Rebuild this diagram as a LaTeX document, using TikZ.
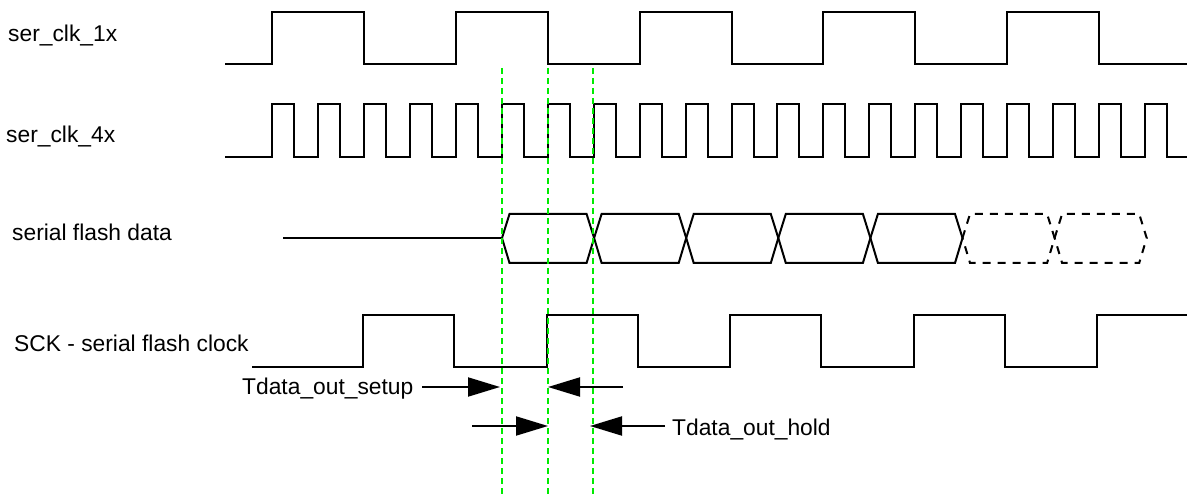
\documentclass[tikz,border=0pt]{standalone}
\usepackage{fontspec}
\setmainfont{Liberation Sans}
\usetikzlibrary{arrows.meta}
\definecolor{guide}{RGB}{0,235,0}
\tikzset{
  wave/.style={line width=2pt, black, line join=miter},
  dwave/.style={wave, dash pattern=on 8pt off 7pt},
  guideline/.style={guide, line width=2pt, dash pattern=on 6pt off 4pt},
  lbl/.style={anchor=base west, inner sep=0pt, font=\fontsize{22.8}{27}\selectfont},
  tarrow/.style={line width=2pt, -{Triangle[length=32pt,width=19pt]}}
}
\begin{document}
\begin{tikzpicture}[x=1pt,y=-1pt]
\useasboundingbox (0,0) rectangle (1187,497);
% labels
\node[lbl] (l1) at (8,41.7) {ser\_clk\_1x};
\node[lbl] (l4) at (6,143) {ser\_clk\_4x};
\node[lbl] (ld) at (12,240.7) {serial flash data};
\node[lbl] (ls) at (14,351.7) {SCK - serial flash clock};
\node[lbl] (lsu) at (242,394) {Tdata\_out\_setup};
\node[lbl] (lho) at (672,435) {Tdata\_out\_hold};
% ser_clk_1x
\draw[wave] (225,64) \foreach \i in {0,...,4} {
  -- ({272+183.8*\i},64) -- ({272+183.8*\i},12) -- ({364+183.8*\i},12) -- ({364+183.8*\i},64) } -- (1187,64);
% ser_clk_4x
\draw[wave] (225,157) \foreach \i in {0,...,19} {
  -- ({272+45.95*\i},157) -- ({272+45.95*\i},104) -- ({294+45.95*\i},104) -- ({294+45.95*\i},157) } -- (1187,157);
% serial flash data
\draw[wave] (283,238) -- (502,238);
\foreach \k in {0,...,4} {
  \pgfmathsetmacro{\a}{502+92.1*\k}
  \pgfmathsetmacro{\b}{502+92.1*(\k+1)}
  \draw[wave] (\a,238) -- (\a+7.5,214) -- (\b-7.5,214) -- (\b,238) -- (\b-7.5,263) -- (\a+7.5,263) -- cycle;
}
\foreach \k in {5,6} {
  \pgfmathsetmacro{\a}{502+92.1*\k}
  \pgfmathsetmacro{\b}{502+92.1*(\k+1)}
  \draw[dwave] (\a,238) -- (\a+7.5,214) -- (\b-7.5,214) -- (\b,238) -- (\b-7.5,263) -- (\a+7.5,263) -- cycle;
}
% SCK
\draw[wave] (252,367) \foreach \i in {0,...,3} {
  -- ({363+183.5*\i},367) -- ({363+183.5*\i},315) -- ({454+183.5*\i},315) -- ({454+183.5*\i},367) } -- (1097,367) -- (1097,315) -- (1187,315);
% green guide lines
\coordinate (g1t) at (502,68); \coordinate (g1b) at (502,495);
\coordinate (g2t) at (548,68); \coordinate (g2b) at (548,497);
\coordinate (g3t) at (593,68); \coordinate (g3b) at (593,497);
\draw[guideline] (g1t) -- (g1b);
\draw[guideline] (g2t) -- (g2b);
\draw[guideline] (g3t) -- (g3b);
% timing arrows
\coordinate (a1s) at (422,387); \coordinate (a1e) at (500,387);
\coordinate (a2s) at (623,387); \coordinate (a2e) at (548,387);
\coordinate (a3s) at (472,426); \coordinate (a3e) at (548,426);
\coordinate (a4s) at (665,426); \coordinate (a4e) at (590,426);
\draw[tarrow] (a1s) -- (a1e);
\draw[tarrow] (a2s) -- (a2e);
\draw[tarrow] (a3s) -- (a3e);
\draw[tarrow] (a4s) -- (a4e);
\end{tikzpicture}
\end{document}
